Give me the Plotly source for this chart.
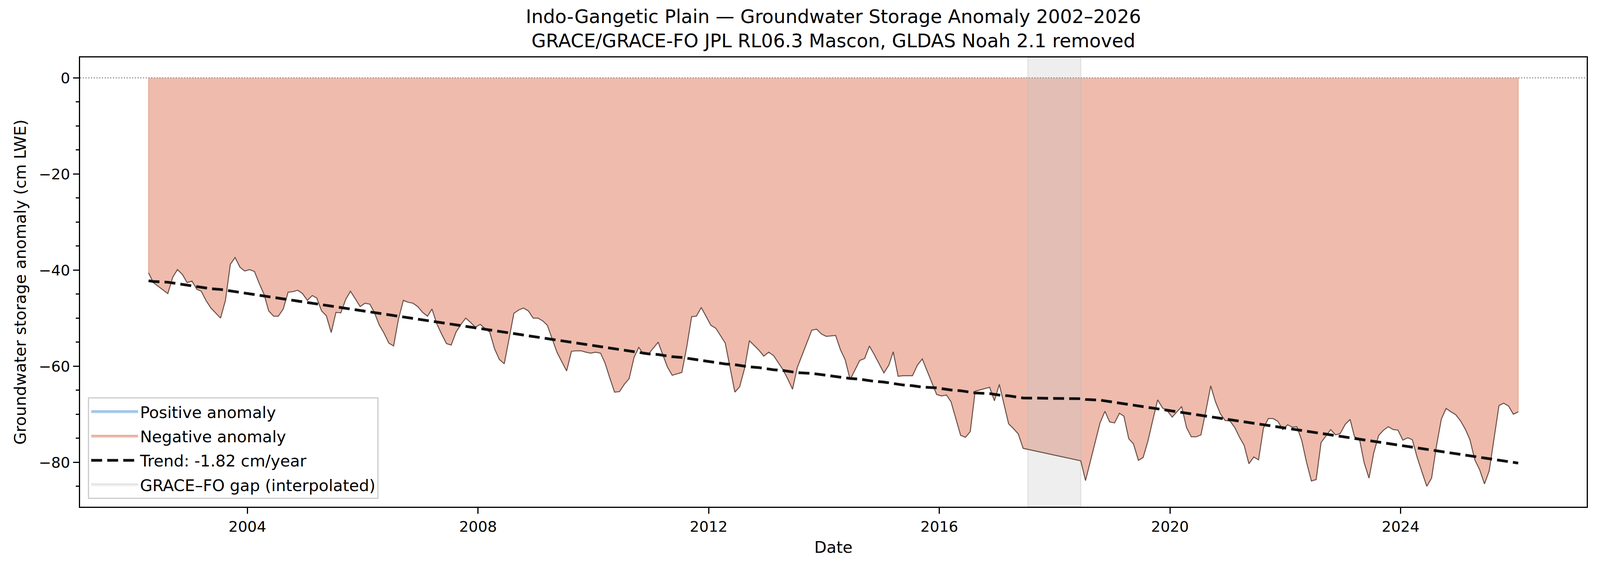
import numpy as np
import pandas as pd
import plotly.graph_objects as go

# Monthly GRACE / GRACE-FO solutions (missing months simply absent)
MONTHS = [
    "2002-04", "2002-05", "2002-08", "2002-09", "2002-10", "2002-11", "2002-12",
    "2003-01", "2003-02", "2003-03", "2003-04", "2003-05", "2003-07", "2003-08", "2003-09", "2003-10", "2003-11", "2003-12",
    "2004-01", "2004-02", "2004-03", "2004-04", "2004-05", "2004-06", "2004-07", "2004-08", "2004-09", "2004-10", "2004-11", "2004-12",
    "2005-01", "2005-02", "2005-03", "2005-04", "2005-05", "2005-06", "2005-07", "2005-08", "2005-09", "2005-10", "2005-11", "2005-12",
    "2006-01", "2006-02", "2006-03", "2006-04", "2006-05", "2006-06", "2006-07", "2006-08", "2006-09", "2006-10", "2006-11", "2006-12",
    "2007-01", "2007-02", "2007-03", "2007-04", "2007-05", "2007-06", "2007-07", "2007-08", "2007-09", "2007-10", "2007-11", "2007-12",
    "2008-01", "2008-02", "2008-03", "2008-04", "2008-05", "2008-06", "2008-07", "2008-08", "2008-09", "2008-10", "2008-11", "2008-12",
    "2009-01", "2009-02", "2009-03", "2009-04", "2009-05", "2009-06", "2009-07", "2009-08", "2009-09", "2009-10", "2009-11", "2009-12",
    "2010-01", "2010-02", "2010-03", "2010-04", "2010-05", "2010-06", "2010-07", "2010-08", "2010-09", "2010-10", "2010-11", "2010-12",
    "2011-02", "2011-03", "2011-04", "2011-05", "2011-07", "2011-08", "2011-09", "2011-10", "2011-11", "2011-12",
    "2012-01", "2012-02", "2012-03", "2012-04", "2012-06", "2012-07", "2012-08", "2012-09", "2012-11", "2012-12",
    "2013-01", "2013-02", "2013-04", "2013-05", "2013-06", "2013-07", "2013-10", "2013-11", "2013-12",
    "2014-01", "2014-03", "2014-04", "2014-05", "2014-06", "2014-08", "2014-09", "2014-10", "2014-11",
    "2015-01", "2015-02", "2015-03", "2015-04", "2015-05", "2015-07", "2015-08", "2015-09", "2015-12",
    "2016-01", "2016-02", "2016-03", "2016-05", "2016-06", "2016-07", "2016-08", "2016-11", "2016-12",
    "2017-01", "2017-03", "2017-04", "2017-05", "2017-06",
    "2018-06", "2018-07", "2018-10", "2018-11", "2018-12",
    "2019-01", "2019-02", "2019-03", "2019-04", "2019-05", "2019-06", "2019-07", "2019-08", "2019-09", "2019-10", "2019-11", "2019-12",
    "2020-01", "2020-02", "2020-03", "2020-04", "2020-05", "2020-06", "2020-07", "2020-08", "2020-09", "2020-10", "2020-11", "2020-12",
    "2021-01", "2021-02", "2021-03", "2021-04", "2021-05", "2021-06", "2021-07", "2021-08", "2021-09", "2021-10", "2021-11", "2021-12",
    "2022-01", "2022-02", "2022-03", "2022-04", "2022-05", "2022-06", "2022-07", "2022-08", "2022-09", "2022-10", "2022-11", "2022-12",
    "2023-01", "2023-02", "2023-03", "2023-04", "2023-05", "2023-06", "2023-07", "2023-08", "2023-09", "2023-10", "2023-11", "2023-12",
    "2024-01", "2024-02", "2024-03", "2024-04", "2024-05", "2024-06", "2024-07", "2024-08", "2024-09", "2024-10", "2024-11", "2024-12",
    "2025-01", "2025-02", "2025-03", "2025-04", "2025-05", "2025-06", "2025-07", "2025-08", "2025-09", "2025-10", "2025-11", "2025-12",
    "2026-01",
]

# Groundwater storage anomaly, cm LWE
GWSA = [
    -40.6, -42.6, -44.9, -41.5, -39.9, -40.9, -42.6,
    -42.3, -44.0, -44.4, -46.4, -47.9, -50.0, -46.3, -38.8, -37.4, -39.4, -40.2,
    -39.9, -40.3, -42.7, -45.0, -48.5, -49.6, -49.6, -48.1, -44.6, -44.5, -44.2, -44.9,
    -46.3, -45.3, -45.8, -48.5, -49.5, -53.0, -48.8, -48.9, -46.1, -44.4, -46.0, -47.6,
    -46.9, -47.1, -48.8, -51.4, -53.1, -55.2, -55.8, -50.2, -46.3, -46.7, -46.9, -47.6,
    -48.8, -49.6, -48.1, -51.2, -53.3, -55.3, -55.6, -52.9, -51.3, -50.0, -50.9, -51.9,
    -51.3, -52.2, -52.9, -56.4, -58.6, -59.5, -54.4, -49.0, -48.3, -47.9, -48.5, -50.0,
    -50.0, -50.6, -51.5, -54.4, -57.1, -59.1, -61.0, -56.9, -56.8, -56.8, -57.1, -57.3,
    -57.1, -57.3, -59.3, -62.5, -65.4, -65.3, -63.8, -62.6, -58.2, -56.1, -57.5, -57.5,
    -55.0, -57.5, -60.2, -61.9, -61.3, -56.0, -49.7, -49.6, -47.8, -49.6,
    -51.5, -52.1, -53.6, -55.2, -65.4, -64.3, -60.5, -54.7, -56.7, -57.9,
    -57.1, -57.8, -60.7, -62.6, -64.8, -60.3, -52.5, -52.3, -53.3,
    -53.8, -53.6, -56.6, -58.7, -62.8, -58.8, -58.4, -55.8, -57.6,
    -61.4, -59.8, -57.0, -62.1, -62.0, -62.0, -59.8, -58.5, -65.9,
    -66.2, -66.0, -67.4, -74.4, -74.8, -73.6, -65.2, -64.4, -67.2,
    -63.8, -72.0, -73.0, -74.1, -77.1,
    -79.7, -83.8, -71.8, -69.4, -71.6,
    -71.8, -69.8, -70.4, -75.1, -76.2, -79.6, -79.0, -75.5, -71.1, -67.0, -68.7, -69.3,
    -70.6, -69.5, -68.4, -72.8, -74.7, -74.7, -74.3, -69.4, -64.1, -67.4, -69.9, -71.3,
    -71.4, -72.8, -74.7, -76.5, -80.3, -78.9, -79.5, -72.9, -70.9, -70.9, -71.5, -73.2,
    -72.2, -72.7, -72.6, -75.5, -80.0, -83.9, -83.6, -75.9, -74.5, -73.2, -74.3, -74.0,
    -72.1, -71.1, -74.7, -75.1, -80.1, -83.3, -78.0, -74.4, -73.3, -72.6, -73.2, -73.3,
    -75.4, -74.9, -75.3, -79.0, -82.0, -85.0, -83.3, -76.6, -71.0, -68.8, -69.5, -70.1,
    -71.4, -73.2, -75.3, -79.5, -81.5, -84.5, -81.8, -74.9, -68.2, -67.7, -68.3, -70.0,
    -69.5,
]

GAP = ["2017-07-15", "2018-06-15"]
TREND_LABEL = "Trend: -1.82 cm/year"
TITLE = ("Indo-Gangetic Plain \u2014 Groundwater Storage Anomaly 2002\u20132026<br>"
         "GRACE/GRACE-FO JPL RL06.3 Mascon, GLDAS Noah 2.1 removed")

FONT = "DejaVu Sans"

dates = pd.to_datetime(MONTHS) + pd.Timedelta(days=14)
gwsa = np.array(GWSA)

# linear trend against sample index (gap months are absent)
idx = np.arange(len(gwsa))
slope, icpt = np.polyfit(idx, gwsa, 1)
trend = icpt + slope * idx

# matplotlib-like 5% margins
lo, hi = min(gwsa.min(), 0), max(gwsa.max(), 0)
pad = 0.05 * (hi - lo)
y_range = [lo - pad, hi + pad]
span = dates[-1] - dates[0]
x_range = [dates[0] - 0.05 * span, dates[-1] + 0.05 * span]

pos = [v if v >= 0 else None for v in gwsa]
neg = np.minimum(gwsa, 0)

fig = go.Figure()

fig.add_trace(go.Scatter(
    x=dates, y=pos, mode="lines", fill="tozeroy",
    fillcolor="rgba(91,155,213,0.5)",
    line=dict(color="rgba(91,155,213,0.7)", width=2),
    name="Positive anomaly",
    legendgroup="pos", legendrank=1,
))

# closed polygon between the series and zero, like fill_between
fig.add_trace(go.Scatter(
    x=[dates[0]] + list(dates) + [dates[-1]],
    y=[0] + list(neg) + [0],
    mode="lines", fill="toself",
    fillcolor="rgba(222,120,90,0.5)",
    line=dict(color="rgba(222,120,90,0.55)", width=2),
    name="Negative anomaly",
    legendgroup="neg", legendrank=2,
))

fig.add_trace(go.Scatter(
    x=[GAP[0], GAP[0], GAP[1], GAP[1], GAP[0]],
    y=[y_range[0], y_range[1], y_range[1], y_range[0], y_range[0]],
    mode="lines", fill="toself",
    fillcolor="rgba(200,200,200,0.3)",
    line=dict(color="rgba(190,190,190,0.35)", width=3),
    name="GRACE\u2013FO gap (interpolated)",
    legendgroup="gap", legendrank=4,
))

fig.add_trace(go.Scatter(
    x=dates, y=gwsa, mode="lines",
    line=dict(color="rgb(104,82,75)", width=2.5),
    showlegend=False,
))

fig.add_trace(go.Scatter(
    x=dates, y=trend, mode="lines",
    line=dict(color="rgb(17,17,17)", width=7, dash="28px,13px"),
    name=TREND_LABEL,
    legendgroup="trend", legendrank=3,
))

# zero reference line
fig.add_shape(
    type="line", xref="paper", x0=0, x1=1, y0=0, y1=0,
    line=dict(color="rgb(150,150,150)", width=3, dash="3px,4px"),
    layer="above",
)

fig.update_layout(
    autosize=True,
    paper_bgcolor="white",
    plot_bgcolor="white",
    font=dict(family=FONT, color="black", size=41),
    margin=dict(l=205, r=34, t=147, b=162),
    title=dict(
        text=TITLE,
        x=0.5, xref="paper", xanchor="center",
        y=1, yref="paper", yanchor="bottom",
        pad=dict(b=88),
        font=dict(size=48, family=FONT, color="black"),
    ),
    xaxis=dict(
        type="date",
        range=x_range,
        tick0="2004-01-01",
        dtick="M48",
        tickformat="%Y",
        ticks="outside",
        ticklen=15,
        tickwidth=3,
        tickcolor="black",
        tickfont=dict(size=38),
        showgrid=False,
        zeroline=False,
        showline=True,
        linecolor="black",
        linewidth=3,
        mirror=True,
        title=dict(text="Date", font=dict(size=41), standoff=18),
    ),
    yaxis=dict(
        range=y_range,
        tick0=0,
        dtick=20,
        ticks="outside",
        ticklen=15,
        tickwidth=3,
        tickcolor="black",
        tickfont=dict(size=38),
        minor=dict(dtick=5, tick0=0, ticks="outside", ticklen=8, tickwidth=2.5, tickcolor="black"),
        showgrid=False,
        zeroline=False,
        showline=True,
        linecolor="black",
        linewidth=3,
        mirror=True,
        title=dict(text="Groundwater storage anomaly (cm LWE)", font=dict(size=41), standoff=20),
    ),
    legend=dict(
        x=0.0053, y=0.017,
        xanchor="left", yanchor="bottom",
        bgcolor="rgba(255,255,255,0.8)",
        bordercolor="rgb(204,204,204)",
        borderwidth=3,
        font=dict(size=41, family=FONT),
        itemwidth=120,
        traceorder="grouped",
        tracegroupgap=6,
    ),
)

# fill the browser viewport exactly (no page margin, no scrollbars)
fig.write_html(
    "out.html",
    default_width="100vw",
    default_height="100vh",
    config={"displayModeBar": False, "responsive": True},
    post_script=(
        "document.body.style.margin='0px';"
        "document.body.style.overflow='hidden';"
        "Plotly.Plots.resize(document.getElementById('{plot_id}'));"
    ),
)
